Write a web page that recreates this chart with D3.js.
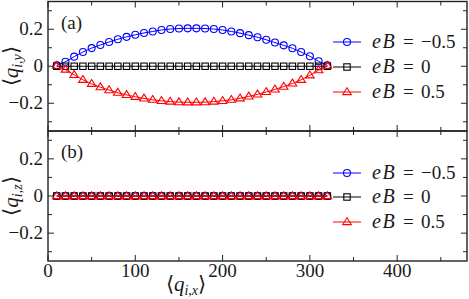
<!DOCTYPE html>
<html>
<head>
<meta charset="utf-8">
<script src="https://cdn.jsdelivr.net/npm/d3@7"></script>
<style>
  body { margin: 0; background: #fff; }
  text { font-family: "Liberation Serif", "Times New Roman", serif; fill: #1a1a1a; }
</style>
</head>
<body>
<svg id="chart" width="469" height="299"></svg>
<script>
// x positions of the points, same for every series
const qx = [10, 20, 30, 40, 50, 60, 70, 80, 90, 100, 110, 120, 130, 140, 150, 160,
            170, 180, 190, 200, 210, 220, 230, 240, 250, 260, 270, 280, 290, 300, 310, 320];

// panel (a): <q_i,y>
const yNeg = [0.005, 0.024, 0.052, 0.077, 0.098, 0.115, 0.131, 0.146, 0.159, 0.170, 0.180, 0.188,
              0.196, 0.201, 0.204, 0.205, 0.205, 0.204, 0.201, 0.196, 0.188, 0.179, 0.168, 0.157,
              0.143, 0.128, 0.113, 0.097, 0.077, 0.054, 0.027, 0.005];
const yZero = [0, 0, 0, 0, 0, 0, 0, 0, 0, 0, 0, 0, 0, 0, 0, 0,
               0, 0, 0, 0, 0, 0, 0, 0, 0, 0, 0, 0, 0, 0, 0, 0];
const yPos = [0.003, -0.018, -0.047, -0.073, -0.095, -0.113, -0.129, -0.143, -0.155, -0.165, -0.174, -0.181,
              -0.187, -0.191, -0.194, -0.195, -0.195, -0.194, -0.191, -0.187, -0.181, -0.173, -0.163, -0.152,
              -0.139, -0.125, -0.110, -0.093, -0.073, -0.049, -0.021, 0.003];

// panel (b): <q_i,z>
const zNeg = [0, 0, 0, 0, 0, 0, 0, 0, 0, 0, 0, 0, 0, 0, 0, 0,
              0, 0, 0, 0, 0, 0, 0, 0, 0, 0, 0, 0, 0, 0, 0, 0];
const zZero = [0, 0, 0, 0, 0, 0, 0, 0, 0, 0, 0, 0, 0, 0, 0, 0,
               0, 0, 0, 0, 0, 0, 0, 0, 0, 0, 0, 0, 0, 0, 0, 0];
const zPos = [0, 0, 0, 0, 0, 0, 0, 0, 0, 0, 0, 0, 0, 0, 0, 0,
              0, 0, 0, 0, 0, 0, 0, 0, 0, 0, 0, 0, 0, 0, 0, 0];

const seriesNames = ["\u22120.5", "0", "0.5"];
const seriesColors = ["#0000ff", "#000000", "#ff0000"];
const seriesMarkers = ["circle", "square", "triangle"];

const xTicks = [0, 100, 200, 300, 400];
const xMinor = [50, 150, 250, 350, 450];
const yTicks = [-0.2, 0, 0.2];
const yMinor = [-0.3, -0.1, 0.1, 0.3];

const svg = d3.select("#chart");
const left = 48, right = 467;
const x = d3.scaleLinear().domain([0, 480]).range([left, right]);

const panels = [
  { top: 1.5, bottom: 131, label: "(a)", comp: "y", data: [yNeg, yZero, yPos] },
  { top: 131, bottom: 261, label: "(b)", comp: "z", data: [zNeg, zZero, zPos] }
];

function drawMarker(g, kind, cx, cy, color) {
  if (kind === "circle") {
    g.append("circle").attr("cx", cx).attr("cy", cy).attr("r", 3.5)
      .attr("fill", "none").attr("stroke", color).attr("stroke-width", 1.1);
  } else if (kind === "square") {
    g.append("rect").attr("x", cx - 3.2).attr("y", cy - 3.2).attr("width", 6.4).attr("height", 6.4)
      .attr("fill", "none").attr("stroke", color).attr("stroke-width", 1.1);
  } else {
    const s = 4.3;
    g.append("path")
      .attr("d", `M${cx},${cy - s}L${cx + s},${cy + s * 0.6}L${cx - s},${cy + s * 0.6}Z`)
      .attr("fill", "none").attr("stroke", color).attr("stroke-width", 1.1);
  }
}

// <q_{i,c}> label built from tspans
function qLabel(t, comp) {
  t.append("tspan").text("\u27E8");
  t.append("tspan").style("font-style", "italic").text("q");
  t.append("tspan").attr("dy", 4).style("font-size", "14px").style("font-style", "italic").text("i");
  t.append("tspan").style("font-size", "14px").text(",");
  t.append("tspan").style("font-size", "14px").style("font-style", "italic").text(comp);
  t.append("tspan").attr("dy", -4).text("\u27E9");
}

panels.forEach((p, pi) => {
  const y = d3.scaleLinear().domain([-0.35, 0.35]).range([p.bottom, p.top]);
  const g = svg.append("g");

  // series
  p.data.forEach((vals, si) => {
    const pts = qx.map((v, i) => [x(v), y(vals[i])]);
    g.append("path")
      .attr("d", d3.line()(pts))
      .attr("fill", "none")
      .attr("stroke", seriesColors[si])
      .attr("stroke-width", 1);
    pts.forEach(pt => drawMarker(g, seriesMarkers[si], pt[0], pt[1], seriesColors[si]));
  });

  // ticks (inward on all four sides)
  const tk = g.append("g").attr("stroke", "#222").attr("stroke-width", 1);
  xTicks.concat(xMinor).forEach(t => {
    const len = xTicks.includes(t) ? 6 : 4;
    tk.append("line").attr("x1", x(t)).attr("x2", x(t)).attr("y1", p.bottom).attr("y2", p.bottom - len);
    tk.append("line").attr("x1", x(t)).attr("x2", x(t)).attr("y1", p.top).attr("y2", p.top + len);
  });
  yTicks.concat(yMinor).forEach(t => {
    const len = yTicks.includes(t) ? 6 : 4;
    tk.append("line").attr("x1", left).attr("x2", left + len).attr("y1", y(t)).attr("y2", y(t));
    tk.append("line").attr("x1", right).attr("x2", right - len).attr("y1", y(t)).attr("y2", y(t));
  });

  // frame
  g.append("rect")
    .attr("x", left).attr("y", p.top)
    .attr("width", right - left).attr("height", p.bottom - p.top)
    .attr("fill", "none").attr("stroke", "#222").attr("stroke-width", 1.4);

  // y tick labels
  yTicks.forEach(t => {
    g.append("text")
      .attr("x", 43).attr("y", y(t) + 6)
      .attr("text-anchor", "end")
      .style("font-size", "19px")
      .text(t === 0 ? "0" : (t < 0 ? "\u2212" : "") + Math.abs(t).toFixed(1));
  });

  // panel label
  g.append("text").attr("x", 61).attr("y", p.top + 27)
    .style("font-size", "19px").text(p.label);

  // y axis label
  const cy = (p.top + p.bottom) / 2;
  const yl = g.append("text")
    .attr("transform", `translate(18,${cy}) rotate(-90)`)
    .attr("text-anchor", "middle")
    .style("font-size", "21px");
  qLabel(yl, p.comp);

  // legend
  const rows = pi === 0 ? [42, 67, 92] : [173, 197, 222];
  seriesNames.forEach((nm, si) => {
    const ry = rows[si];
    g.append("line").attr("x1", 333).attr("x2", 361).attr("y1", ry).attr("y2", ry)
      .attr("stroke", seriesColors[si]).attr("stroke-width", 1);
    drawMarker(g, seriesMarkers[si], 347, ry, seriesColors[si]);
    const t = g.append("text").attr("y", ry + 6).style("font-size", "19px");
    t.append("tspan").attr("x", 372).style("font-style", "italic")
      .style("font-size", "20px").style("letter-spacing", "1.5px").text("eB");
    t.append("tspan").attr("x", 403).text("=");
    t.append("tspan").attr("x", 421).text(nm);
  });
});

// x tick labels
xTicks.forEach(t => {
  svg.append("text")
    .attr("x", x(t)).attr("y", 277)
    .attr("text-anchor", "middle")
    .style("font-size", "19px")
    .text(t);
});

// x axis label
const xl = svg.append("text")
  .attr("x", 186).attr("y", 291)
  .attr("text-anchor", "middle")
  .style("font-size", "21px");
qLabel(xl, "x");
</script>
</body>
</html>
